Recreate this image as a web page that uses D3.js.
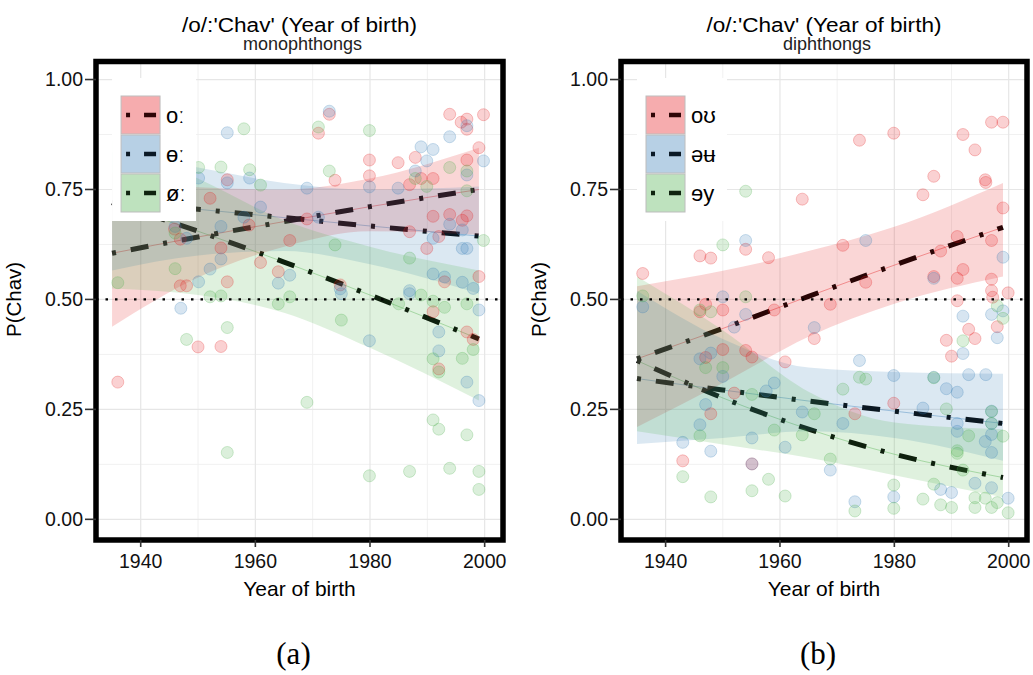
<!DOCTYPE html>
<html>
<head>
<meta charset="utf-8">
<script src="https://cdn.jsdelivr.net/npm/d3@7"></script>
<style>
  body { margin: 0; background: #fff; }
  svg { display: block; }
</style>
</head>
<body>
<svg id="chart" width="1033" height="675"></svg>
<script>
// ---- data ----
const colors = ["#E41A1C", "#377EB8", "#4DAF4A"];
const monoLabels = ["oː", "ɵː", "øː"];
const diphLabels = ["oʊ", "əʉ", "ɘy"];
const xTicks = [1940, 1960, 1980, 2000];
const yTicks = [0, 0.25, 0.5, 0.75, 1];
const fitYears = [1935, 1950, 1965, 1980, 1999];

// fitted P(Chav) and ribbon bounds at fitYears
const monoFit = [[0.605, 0.642, 0.677, 0.711, 0.75], [0.72, 0.705, 0.686, 0.667, 0.644], [0.72, 0.655, 0.585, 0.51, 0.41]];
const monoLo  = [[0.438, 0.55, 0.62, 0.655, 0.647], [0.566, 0.60, 0.61, 0.58, 0.513], [0.525, 0.51, 0.47, 0.39, 0.27]];
const monoHi  = [[0.79, 0.755, 0.75, 0.775, 0.845], [0.835, 0.80, 0.765, 0.75, 0.757], [0.86, 0.775, 0.68, 0.62, 0.566]];
const diphFit = [[0.365, 0.434, 0.507, 0.578, 0.664], [0.32, 0.294, 0.269, 0.246, 0.218], [0.361, 0.276, 0.205, 0.148, 0.095]];
const diphLo  = [[0.21, 0.31, 0.415, 0.49, 0.552], [0.171, 0.185, 0.20, 0.185, 0.133], [0.20, 0.17, 0.14, 0.10, 0.05]];
const diphHi  = [[0.53, 0.565, 0.61, 0.665, 0.765], [0.52, 0.41, 0.345, 0.335, 0.331], [0.552, 0.43, 0.29, 0.22, 0.205]];

// speaker points [year, P(Chav)]
const monoPoints = [
  [[1955.1,0.772],[1952.1,0.73],[1958.9,0.669],[1946.9,0.637],[1954,0.617],[1966,0.634],[1960.9,0.584],[1964,0.563],[1946.9,0.531],[1948,0.531],[1955.1,0.54],[1950,0.392],[1954,0.393],[1936,0.312],[1945.9,0.66],
   [1972.9,0.921],[1971,0.878],[1973.9,0.771],[1979.9,0.817],[1979.9,0.781],[1984.9,0.811],[1987.9,0.823],[1986.9,0.761],[1988.9,0.775],[1991,0.775],[1993.9,0.921],[1995.9,0.903],[1996.9,0.91],[1996.9,0.887],[1999.8,0.92],[1999,0.845],[1996.9,0.817],[1991,0.689],[1993.9,0.693],[1996.9,0.69],[1996.1,0.68],[1992,0.643],[1989.9,0.616],[1986.9,0.654],[1969,0.683],[1974.8,0.533],[1993,0.54],[1999,0.552],[1991,0.472],[1996.9,0.426],[1998,0.409],[1992,0.342]],
  [[1955.1,0.879],[1950.1,0.776],[1955.1,0.765],[1959,0.776],[1960.9,0.71],[1958,0.687],[1954,0.666],[1948,0.639],[1954,0.592],[1952.1,0.569],[1950.1,0.54],[1947,0.48],[1966,0.555],[1964,0.537],[1946,0.666],
   [1972.9,0.928],[1969,0.753],[1971,0.687],[1979.9,0.756],[1984.9,0.753],[1988.9,0.847],[1991,0.841],[1993.9,0.87],[1996.9,0.895],[1999.8,0.815],[1987.9,0.792],[1989.9,0.815],[1996.9,0.783],[1993.9,0.671],[1996.1,0.658],[1991,0.639],[1996.1,0.616],[1996.9,0.616],[1991,0.558],[1993,0.551],[1996.1,0.539],[1998,0.525],[1986.9,0.52],[1986.9,0.513],[1974.8,0.524],[1975,0.513],[1979.9,0.406],[1992,0.426],[1992,0.383],[1996.9,0.312],[1999,0.27],[1999,0.476]],
  [[1958,0.888],[1950.1,0.80],[1954,0.801],[1959,0.795],[1960.9,0.76],[1946,0.651],[1946,0.57],[1936,0.538],[1952.1,0.506],[1954,0.508],[1964,0.49],[1966,0.506],[1955.1,0.436],[1948,0.409],[1955.1,0.152],[1969,0.266],
   [1971,0.892],[1979.9,0.884],[1972.9,0.792],[1993.9,0.80],[1996.9,0.792],[1996.9,0.747],[1989.9,0.757],[1987.9,0.775],[1973.9,0.624],[1999.8,0.634],[1986.9,0.594],[1988.9,0.51],[1985,0.49],[1991,0.496],[1993,0.482],[1996.9,0.49],[1975,0.453],[1991,0.365],[1992,0.335],[1996.1,0.366],[1998,0.386],[1991,0.226],[1992,0.205],[1996.9,0.192],[1979.9,0.099],[1986.9,0.109],[1993.9,0.116],[1999,0.109],[1999,0.068]]
];
const diphPoints = [
  [[1936,0.559],[1946,0.599],[1947.9,0.594],[1954,0.614],[1958,0.595],[1963.9,0.728],[1947,0.489],[1946,0.472],[1950,0.476],[1959,0.476],[1950,0.386],[1947,0.368],[1954,0.384],[1955.1,0.369],[1960.9,0.358],[1966,0.411],[1952,0.287],[1947.9,0.24],[1943,0.133],[1955.1,0.126],
   [1973.9,0.862],[1979.9,0.878],[1992,0.875],[1994.1,0.84],[1997,0.903],[1999,0.903],[1986.9,0.78],[1985,0.738],[1995.9,0.772],[1996,0.766],[1999,0.708],[1971,0.623],[1991,0.643],[1997,0.634],[1988.1,0.61],[1991,0.548],[1992,0.568],[1986.9,0.552],[1975,0.539],[1997,0.546],[1997,0.52],[1997.2,0.505],[1999.9,0.515],[1991,0.497],[1968.8,0.489],[1998,0.438],[1993,0.432],[1994.1,0.411],[1989.1,0.407],[1990,0.371],[1979.9,0.264],[1973.1,0.24]],
  [[1954,0.634],[1950,0.506],[1936,0.483],[1954,0.466],[1946,0.365],[1947.9,0.378],[1950,0.325],[1952,0.437],[1966,0.436],[1959,0.31],[1957.6,0.292],[1963.9,0.244],[1947,0.261],[1946,0.215],[1943,0.175],[1947.9,0.155],[1955.1,0.185],[1960.9,0.164],[1955.1,0.126],[1968.8,0.112],
   [1975,0.634],[1999,0.596],[1986.9,0.548],[1992,0.462],[1997,0.466],[1999,0.474],[1998,0.413],[1992,0.377],[1973.9,0.361],[1979.9,0.327],[1986.9,0.323],[1993,0.329],[1996,0.329],[1989.1,0.297],[1991,0.289],[1985,0.253],[1971,0.218],[1991,0.218],[1997,0.246],[1997,0.218],[1997,0.193],[1991,0.2],[1995.9,0.177],[1997,0.152],[1994.1,0.082],[1997,0.072],[1988.1,0.068],[1990,0.061],[1979.9,0.051],[1973.1,0.04],[1999.9,0.048]],
  [[1954,0.746],[1950,0.624],[1936,0.508],[1946,0.476],[1947.9,0.472],[1954,0.506],[1947,0.345],[1950,0.345],[1955.1,0.284],[1946,0.19],[1959,0.203],[1963.9,0.192],[1966,0.24],[1943,0.097],[1947.9,0.051],[1955.1,0.065],[1958,0.091],[1960.9,0.053],[1968.8,0.137],
   [1973.9,0.323],[1975,0.319],[1986.9,0.322],[1971,0.296],[1989.1,0.251],[1992,0.406],[1998,0.485],[1999,0.457],[1997,0.245],[1997,0.218],[1993,0.19],[1999,0.189],[1991,0.156],[1991,0.15],[1992,0.112],[1979.9,0.078],[1986.9,0.08],[1985,0.046],[1979.9,0.025],[1973.1,0.019],[1988.1,0.033],[1990,0.027],[1994.1,0.049],[1994.1,0.027],[1995.9,0.048],[1997,0.027],[1999.9,0.015],[1998,0.038]]
];

// ---- layout ----
var svg = d3.select("#chart"),
    plotTop = 61.5, plotBottom = 540,
    sans = "'Liberation Sans', Arial, Helvetica, sans-serif"

var panels = [
  { id: "a", x0: 96, x1: 503, sub: "monophthongs", labels: monoLabels, fit: monoFit, lo: monoLo, hi: monoHi, pts: monoPoints, tag: "(a)" },
  { id: "b", x0: 621, x1: 1027, sub: "diphthongs", labels: diphLabels, fit: diphFit, lo: diphLo, hi: diphHi, pts: diphPoints, tag: "(b)" }
]

var y = d3.scaleLinear().domain([-0.047, 1.041]).range([plotBottom, plotTop])

panels.forEach(function(p) {
    var x = d3.scaleLinear().domain([1932.2, 2003.2]).range([p.x0, p.x1]),
        cx = (p.x0 + p.x1) / 2,
        g = svg.append("g")

    g.append("clipPath").attr("id", "clip-" + p.id)
        .append("rect").attr("x", p.x0).attr("y", plotTop).attr("width", p.x1 - p.x0).attr("height", plotBottom - plotTop)

    // grid
    var grid = g.append("g")
    var minorY = [0.125, 0.375, 0.625, 0.875], minorX = [1950, 1970, 1990]
    grid.selectAll(".gmy").data(minorY).enter().append("line")
        .attr("x1", p.x0).attr("x2", p.x1).attr("y1", d => y(d)).attr("y2", d => y(d))
        .attr("stroke", "#f1f1f1").attr("stroke-width", 1)
    grid.selectAll(".gmx").data(minorX).enter().append("line")
        .attr("y1", plotTop).attr("y2", plotBottom).attr("x1", d => x(d)).attr("x2", d => x(d))
        .attr("stroke", "#f1f1f1").attr("stroke-width", 1)
    grid.selectAll(".gy").data(yTicks).enter().append("line")
        .attr("x1", p.x0).attr("x2", p.x1).attr("y1", d => y(d)).attr("y2", d => y(d))
        .attr("stroke", "#e6e6e6").attr("stroke-width", 1.2)
    grid.selectAll(".gx").data(xTicks).enter().append("line")
        .attr("y1", plotTop).attr("y2", plotBottom).attr("x1", d => x(d)).attr("x2", d => x(d))
        .attr("stroke", "#e6e6e6").attr("stroke-width", 1.2)

    var plot = g.append("g").attr("clip-path", "url(#clip-" + p.id + ")")

    var line = d3.line().x(d => x(d[0])).y(d => y(d[1])).curve(d3.curveMonotoneX)
    var area = d3.area().x(d => x(d[0])).y0(d => y(d[1])).y1(d => y(d[2])).curve(d3.curveMonotoneX)

    // fitted lines (drawn under ribbons so they pick up the tint)
    p.fit.forEach(function(f, i) {
        var pts = fitYears.map((yr, k) => [yr, f[k]])
        plot.append("path").attr("d", line(pts))
            .attr("fill", "none").attr("stroke", colors[i]).attr("stroke-opacity", 0.5).attr("stroke-width", 0.8)
        plot.append("path").attr("d", line(pts))
            .attr("fill", "none").attr("stroke", "#000").attr("stroke-width", 5)
            .attr("stroke-dasharray", "4 15 18 15")
    })

    // ribbons
    p.fit.forEach(function(f, i) {
        var band = fitYears.map((yr, k) => [yr, p.lo[i][k], p.hi[i][k]])
        plot.append("path").attr("d", area(band))
            .attr("fill", colors[i]).attr("fill-opacity", 0.18)
    })

    // points
    p.pts.forEach(function(list, i) {
        plot.selectAll(".pt" + i).data(list).enter().append("circle")
            .attr("cx", d => x(d[0])).attr("cy", d => y(d[1])).attr("r", 6)
            .attr("fill", colors[i]).attr("fill-opacity", 0.2)
            .attr("stroke", colors[i]).attr("stroke-opacity", 0.25).attr("stroke-width", 1)
    })

    // reference line at 0.5
    plot.append("line")
        .attr("x1", p.x0).attr("x2", p.x1).attr("y1", y(0.5)).attr("y2", y(0.5))
        .attr("stroke", "#000").attr("stroke-width", 2.2).attr("stroke-dasharray", "2.5 7")

    // legend
    var lx = x(1935), ly = 78
    var legend = g.append("g").attr("transform", "translate(" + lx + "," + ly + ")")
    legend.append("rect").attr("width", p.id === "a" ? 84 : 90).attr("height", 143).attr("fill", "#fff")
    p.labels.forEach(function(lab, i) {
        var row = legend.append("g").attr("transform", "translate(9," + (18 + i * 39) + ")")
        row.append("rect").attr("width", 39).attr("height", 38).attr("fill", colors[i]).attr("fill-opacity", 0.2)
        row.append("line").attr("x1", 5).attr("x2", 35).attr("y1", 19).attr("y2", 19)
            .attr("stroke", "#000").attr("stroke-width", 4.5).attr("stroke-dasharray", "4 14 12 100")
        row.append("rect").attr("width", 39).attr("height", 38).attr("fill", colors[i]).attr("fill-opacity", 0.2)
            .attr("stroke", "#bdbdbd").attr("stroke-width", 1)
        row.append("text").attr("x", 45).attr("y", 19).attr("dy", "0.36em")
            .attr("font-family", sans).attr("font-size", "22px").attr("fill", "#000").text(lab)
    })

    // frame
    g.append("rect").attr("x", p.x0).attr("y", plotTop).attr("width", p.x1 - p.x0).attr("height", plotBottom - plotTop)
        .attr("fill", "none").attr("stroke", "#000").attr("stroke-width", 5.5)

    // y axis
    var ya = g.append("g")
    ya.selectAll("line").data(yTicks).enter().append("line")
        .attr("x1", p.x0 - 11).attr("x2", p.x0).attr("y1", d => y(d)).attr("y2", d => y(d))
        .attr("stroke", "#333").attr("stroke-width", 1.6)
    ya.selectAll("text").data(yTicks).enter().append("text")
        .attr("x", p.x0 - 13).attr("y", d => y(d)).attr("dy", "0.35em").attr("text-anchor", "end")
        .attr("font-family", sans).attr("font-size", "19.5px").attr("fill", "#111")
        .text(d => d3.format(".2f")(d))
    g.append("text")
        .attr("transform", "translate(" + (p.x0 - 75) + "," + y(0.5) + ") rotate(-90)")
        .attr("text-anchor", "middle").attr("font-family", sans).attr("font-size", "20.5px").text("P(Chav)")

    // x axis
    var xa = g.append("g")
    xa.selectAll("line").data(xTicks).enter().append("line")
        .attr("x1", d => x(d)).attr("x2", d => x(d)).attr("y1", plotBottom).attr("y2", plotBottom + 7)
        .attr("stroke", "#333").attr("stroke-width", 1.6)
    xa.selectAll("text").data(xTicks).enter().append("text")
        .attr("x", d => x(d)).attr("y", 568).attr("text-anchor", "middle")
        .attr("font-family", sans).attr("font-size", "19.5px").attr("fill", "#111").text(d => d)
    g.append("text").attr("x", cx).attr("y", 596).attr("text-anchor", "middle")
        .attr("font-family", sans).attr("font-size", "21px").text("Year of birth")

    // titles
    g.append("text").attr("x", cx).attr("y", 31.5).attr("text-anchor", "middle")
        .attr("font-family", sans).attr("font-size", "20px")
        .attr("textLength", 235).attr("lengthAdjust", "spacingAndGlyphs")
        .text("/o/:'Chav' (Year of birth)")
    g.append("text").attr("x", cx + 3).attr("y", 50).attr("text-anchor", "middle")
        .attr("font-family", sans).attr("font-size", "18px").attr("fill", "#222").text(p.sub)

    // panel tag
    g.append("text").attr("x", cx - 6).attr("y", 664).attr("text-anchor", "middle")
        .attr("font-family", "'Liberation Serif', 'DejaVu Serif', serif").attr("font-size", "31px").text(p.tag)
})
</script>
</body>
</html>
